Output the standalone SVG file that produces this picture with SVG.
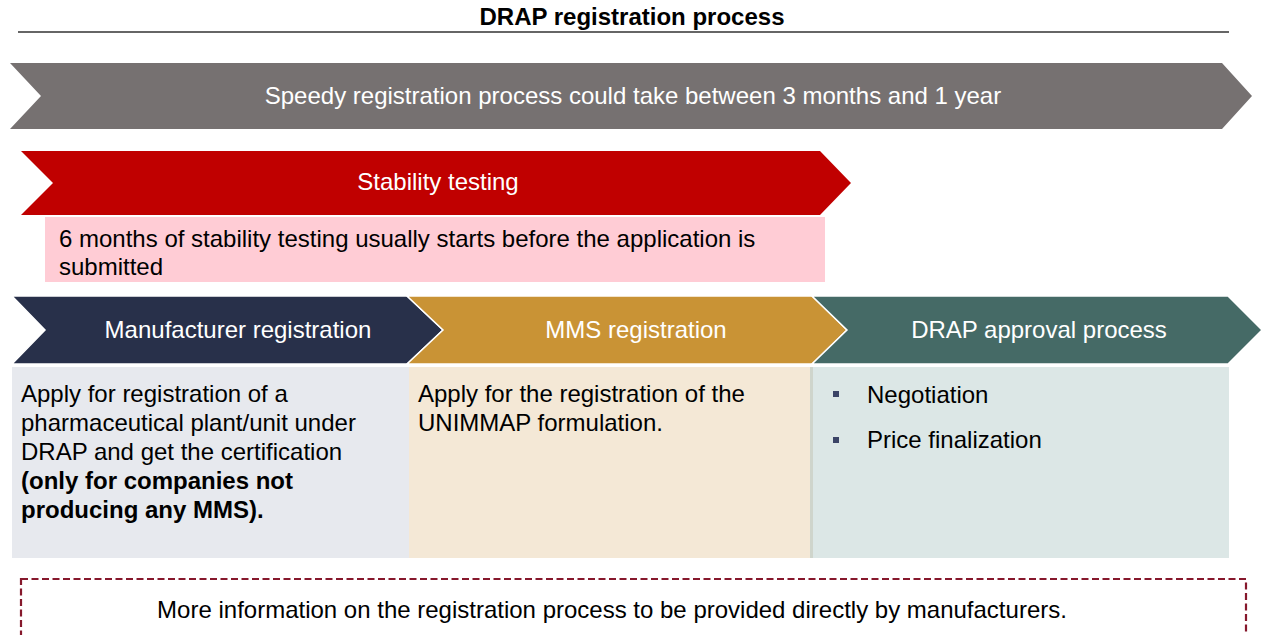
<svg xmlns="http://www.w3.org/2000/svg" width="1268" height="635" viewBox="0 0 1268 635">
  <style>
    text { font-family: "Liberation Sans", Arial, sans-serif; font-size: 24px; }
    .title { font-weight: bold; fill: #000; text-anchor: middle; }
    .hdr { fill: #ffffff; text-anchor: middle; }
    .body { fill: #000000; }
    .b { font-weight: bold; }
    .chev { stroke: #ffffff; stroke-width: 1.5; stroke-linejoin: miter; }
  </style>

  <rect width="1268" height="635" fill="#ffffff"/>

  <!-- Title -->
  <g id="title">
    <text class="title" x="632" y="25">DRAP registration process</text>
    <line x1="18" y1="32" x2="1229" y2="32" stroke="#333333" stroke-width="1.5"/>
  </g>

  <!-- Overall duration -->
  <g id="duration">
    <polygon points="10,63 1222,63 1252,96 1222,129 10,129 41,96" fill="#767171"/>
    <text class="hdr" x="633" y="104">Speedy registration process could take between 3 months and 1 year</text>
  </g>

  <!-- Stability testing -->
  <g id="stability">
    <polygon points="21,151 820,151 851,183 820,215 21,215 53,183" fill="#C00000"/>
    <text class="hdr" x="438" y="190">Stability testing</text>
    <rect x="45" y="217" width="780" height="65" fill="#FFCCD5"/>
    <text class="body" x="59" y="247">6 months of stability testing usually starts before the application is</text>
    <text class="body" x="59" y="275">submitted</text>
  </g>

  <!-- Process steps -->
  <g id="step-manufacturer">
    <rect x="12" y="367" width="397" height="191" fill="#E7E9EE"/>
    <polygon class="chev" points="12,296 407,296 443,330 407,364 12,364 45,330" fill="#28304A"/>
    <text class="hdr" x="238" y="338">Manufacturer registration</text>
    <text class="body" x="21" y="402">Apply for registration of a</text>
    <text class="body" x="21" y="431">pharmaceutical plant/unit under</text>
    <text class="body" x="21" y="460">DRAP and get the certification</text>
    <text class="body b" x="21" y="489">(only for companies not</text>
    <text class="body b" x="21" y="518">producing any MMS).</text>
  </g>

  <g id="step-mms">
    <rect x="409" y="367" width="401" height="191" fill="#F4E8D6"/>
    <polygon class="chev" points="407,296 812,296 847,330 812,364 407,364 443,330" fill="#C99335"/>
    <text class="hdr" x="636" y="338">MMS registration</text>
    <text class="body" x="418" y="402">Apply for the registration of the</text>
    <text class="body" x="418" y="431">UNIMMAP formulation.</text>
  </g>

  <g id="step-approval">
    <rect x="810" y="367" width="3" height="191" fill="#CFD5CC"/>
    <rect x="813" y="367" width="416" height="191" fill="#DCE7E6"/>
    <polygon class="chev" points="812,296 1228,296 1262,330 1228,364 812,364 847,330" fill="#456A66"/>
    <text class="hdr" x="1039" y="338">DRAP approval process</text>
    <rect x="833" y="391" width="6" height="6" fill="#3B4466"/>
    <text class="body" x="867" y="403">Negotiation</text>
    <rect x="833" y="437" width="6" height="6" fill="#3B4466"/>
    <text class="body" x="867" y="448">Price finalization</text>
  </g>

  <!-- Note -->
  <g id="note">
    <rect x="21" y="579" width="1225" height="80" fill="none" stroke="#86182C" stroke-width="2.2" stroke-dasharray="7,3.5"/>
    <text class="body" x="612" y="618" text-anchor="middle">More information on the registration process to be provided directly by manufacturers.</text>
  </g>

  <!-- No connectors between steps; the chevrons abut directly -->
  <g id="connectors"/>
</svg>
